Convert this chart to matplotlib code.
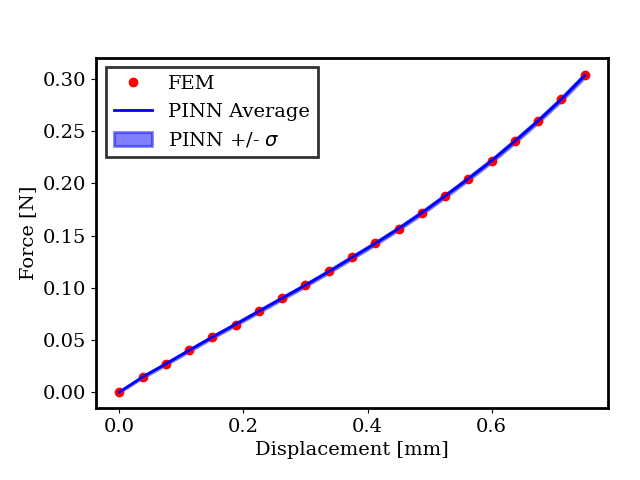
import numpy as np
import matplotlib
matplotlib.use('Agg')
import matplotlib.pyplot as plt

plt.rcParams['font.family'] = 'DejaVu Serif'
plt.rcParams['font.size'] = 14

# FEM reference points
disp_fem = [0.0, 0.0375, 0.075, 0.1125, 0.15, 0.1875, 0.225, 0.2625, 0.3, 0.3375,
            0.375, 0.4125, 0.45, 0.4875, 0.525, 0.5625, 0.6, 0.6375, 0.675, 0.7125, 0.75]
force_fem = [0.0, 0.0146, 0.0268, 0.0402, 0.0526, 0.0647, 0.0774, 0.0899, 0.1023, 0.1157,
             0.1290, 0.1424, 0.1565, 0.1718, 0.1880, 0.2046, 0.2215, 0.2409, 0.2597, 0.2808, 0.3040]
# PINN mean and std
force_pinn = [0.0, 0.0144, 0.0270, 0.0400, 0.0527, 0.0650, 0.0775, 0.0900, 0.1025, 0.1155,
              0.1290, 0.1425, 0.1567, 0.1718, 0.1880, 0.2046, 0.2218, 0.2405, 0.2600, 0.2808, 0.3035]
std_pinn = [0.0, 0.0008, 0.0009, 0.0010, 0.0010, 0.0011, 0.0011, 0.0012, 0.0012, 0.0012,
            0.0013, 0.0013, 0.0013, 0.0014, 0.0014, 0.0015, 0.0015, 0.0016, 0.0016, 0.0017, 0.0018]

x = np.array(disp_fem)
mean = np.array(force_pinn)
std = np.array(std_pinn)

fig, ax = plt.subplots(figsize=(6.4, 4.8), dpi=100)
fig.subplots_adjust(left=0.15, right=0.95, bottom=0.15, top=0.88)
ax.plot(disp_fem, force_fem, 'o', color='red', label='FEM')
ax.plot(x, mean, '-', color='blue', linewidth=2, label='PINN Average')
ax.fill_between(x, mean - std, mean + std, color='blue', alpha=0.5, linewidth=2,
                label=r'PINN +/- $\sigma$')
ax.set_xlabel('Displacement [mm]')
ax.set_ylabel('Force [N]')
ax.set_yticks(np.arange(0, 0.31, 0.05))
for s in ax.spines.values():
    s.set_linewidth(2)
leg = ax.legend(loc='upper left', fancybox=False, edgecolor='k', framealpha=0.8)
leg.get_frame().set_linewidth(2)
plt.savefig('out.png')
